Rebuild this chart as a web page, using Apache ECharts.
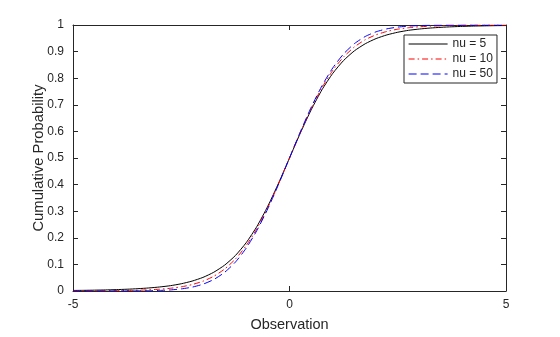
<!DOCTYPE html>
<html><head><meta charset="utf-8">
<script src="https://cdn.jsdelivr.net/npm/echarts@6/dist/echarts.min.js"></script>
<style>html,body{margin:0;padding:0;background:#fff}#c{width:560px;height:337px}</style>
</head><body><div id="c"></div>
<script>
const xValues = [-5,-4.75,-4.5,-4.25,-4,-3.75,-3.5,-3.25,-3,-2.75,-2.5,-2.25,-2,-1.75,-1.5,-1.25,-1,-0.75,-0.5,-0.25,0,0.25,0.5,0.75,1,1.25,1.5,1.75,2,2.25,2.5,2.75,3,3.25,3.5,3.75,4,4.25,4.5,4.75,5];
const nu5 = [0.0021,0.0025,0.0032,0.0040,0.0052,0.0067,0.0087,0.0114,0.0151,0.0200,0.0272,0.0372,0.0510,0.0704,0.0970,0.1333,0.1816,0.2434,0.3191,0.4063,0.5,0.5937,0.6809,0.7566,0.8184,0.8667,0.9030,0.9296,0.9490,0.9628,0.9728,0.9800,0.9849,0.9886,0.9913,0.9933,0.9948,0.9960,0.9968,0.9975,0.9979];
const nu10 = [0.0003,0.0004,0.0006,0.0008,0.0013,0.0019,0.0029,0.0044,0.0067,0.0102,0.0157,0.0241,0.0367,0.0553,0.0823,0.1199,0.1704,0.2352,0.3140,0.4038,0.5,0.5962,0.6860,0.7648,0.8296,0.8801,0.9177,0.9447,0.9633,0.9759,0.9843,0.9898,0.9933,0.9956,0.9971,0.9981,0.9987,0.9992,0.9994,0.9996,0.9997];
const nu50 = [0.0000,0.00001,0.00002,0.00005,0.0001,0.0002,0.0005,0.0010,0.0021,0.0041,0.0079,0.0144,0.0255,0.0431,0.0699,0.1085,0.1611,0.2284,0.3096,0.4018,0.5,0.5982,0.6904,0.7716,0.8389,0.8915,0.9301,0.9569,0.9745,0.9856,0.9921,0.9959,0.9979,0.9990,0.9995,0.9998,0.9999,0.99995,0.99998,0.99999,1.0000];
const seriesNames = ['nu = 5','nu = 10','nu = 50'];
const xTickLabels = ['-5','0','5'];

const FONT = 'Liberation Sans, Arial, Helvetica, sans-serif';
const AX = '#262626';
const pairs = ys => xValues.map((x,i)=>[x, ys[i]]);
const chart = echarts.init(document.getElementById('c'), null, {renderer:'canvas'});
const baseAxis = {
  axisLine:{show:true, onZero:false, lineStyle:{color:AX, width:1}},
  axisTick:{show:true, inside:true, length:5, lineStyle:{color:AX}},
  splitLine:{show:false}
};
chart.setOption({
  animation:false,
  backgroundColor:'#fff',
  grid:{left:73, right:54, top:25, bottom:39, containLabel:false},
  xAxis:[
    Object.assign({}, baseAxis, {type:'value', min:-5, max:5, interval:5, position:'bottom',
      name:'Observation', nameLocation:'middle', nameGap:26, nameMoveOverlap:false,
      nameTextStyle:{fontFamily:FONT, fontSize:14.5, color:AX},
      axisLabel:{fontFamily:FONT, fontSize:12, color:AX, margin:8,
        formatter: v => { const i = [-5,0,5].indexOf(v); return i>=0 ? xTickLabels[i] : ''; }}}),
    Object.assign({}, baseAxis, {type:'value', min:-5, max:5, interval:5, position:'top', axisLabel:{show:false}})
  ],
  yAxis:[
    Object.assign({}, baseAxis, {type:'value', min:0, max:1, interval:0.1, position:'left',
      name:'Cumulative Probability', nameLocation:'middle', nameGap:27, nameRotate:90, nameMoveOverlap:false,
      nameTextStyle:{fontFamily:FONT, fontSize:14.8, color:AX},
      axisLabel:{fontFamily:FONT, fontSize:12, color:AX, margin:9,
        formatter: v => String(Math.round(v*10)/10)}}),
    Object.assign({}, baseAxis, {type:'value', min:0, max:1, interval:0.1, position:'right', axisLabel:{show:false}})
  ],
  legend:{
    orient:'vertical', left:404, top:35,
    padding:[3,4,3,4], itemGap:3, itemWidth:39, itemHeight:12,
    borderColor:AX, borderWidth:1, backgroundColor:'#fff', borderRadius:0,
    itemStyle:{color:'rgba(0,0,0,0)', borderWidth:0},
    lineStyle:{width:1.2},
    textStyle:{fontFamily:FONT, fontSize:12, color:AX},
    data:seriesNames
  },
  series:[
    {name:seriesNames[0], type:'line', data:pairs(nu5), showSymbol:false, symbol:'none', smooth:0.2,
      lineStyle:{color:'#000000', width:1, type:'solid'}, itemStyle:{color:'#000000'}},
    {name:seriesNames[1], type:'line', data:pairs(nu10), showSymbol:false, symbol:'none', smooth:0.2,
      lineStyle:{color:'#ff0000', width:1, type:[6,3,1.5,3]}, itemStyle:{color:'#ff0000'}},
    {name:seriesNames[2], type:'line', data:pairs(nu50), showSymbol:false, symbol:'none', smooth:0.2,
      lineStyle:{color:'#0000ff', width:1, type:[8,4]}, itemStyle:{color:'#0000ff'}}
  ]
});
</script></body></html>
